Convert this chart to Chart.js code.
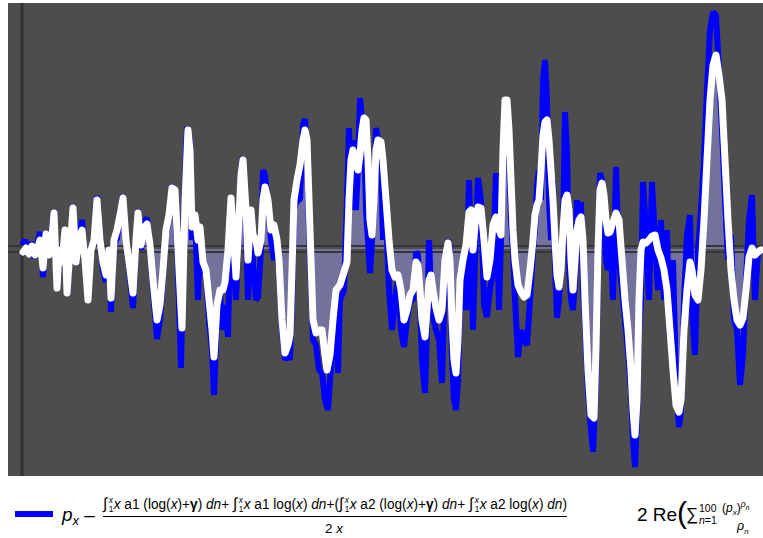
<!DOCTYPE html>
<html>
<head>
<meta charset="utf-8">
<script src="https://cdn.jsdelivr.net/npm/chart.js@4.4.1/dist/chart.umd.min.js"></script>
<style>
  html, body { margin: 0; padding: 0; background: #fff; }
  body { width: 763px; height: 538px; position: relative; overflow: hidden;
         font-family: "Liberation Sans", Arial, sans-serif; color: #000; }
  #plot { position: absolute; left: 8px; top: 3px; }
  .leg { position: absolute; white-space: nowrap; }
  .swatch { position: absolute; left: 15px; top: 511px; width: 38px; height: 6px; background: #0000ff; }
  .big { font-size: 19px; }
  .big sub { font-size: 13px; vertical-align: -4px; }
  .frac { position: absolute; left: 103px; top: 495px; width: 464px; }
  .num { display: inline-block; font-size: 14px; white-space: nowrap; transform-origin: 0 0; }
  .bar { position: absolute; left: 0; top: 21px; width: 464px; height: 1.3px; background: #000; }
  .den { position: absolute; left: 222px; top: 26px; font-size: 13.5px; }
  .int { display: inline-block; position: relative; width: 11px; font-size: 16px; line-height: 14px; }
  .int .lim { position: absolute; left: 6px; font-size: 8.5px; line-height: 8px; }
  .int .up { top: -1px; } .int .lo { top: 8px; }
</style>
</head>
<body>
<canvas id="plot" width="755" height="473"></canvas>

<div class="swatch"></div>
<div class="leg big" style="left:62px; top:504px;"><i>p</i><sub><i>x</i></sub> –</div>
<div class="frac">
  <span class="num" id="num"><span class="int">∫<span class="lim up"><i>x</i></span><span class="lim lo">1</span></span><i>x</i> a1 (log(<i>x</i>)+<b>γ</b>) <i>dn</i>+ <span class="int">∫<span class="lim up"><i>x</i></span><span class="lim lo">1</span></span><i>x</i> a1 log(<i>x</i>) <i>dn</i>+(<span class="int">∫<span class="lim up"><i>x</i></span><span class="lim lo">1</span></span><i>x</i> a2 (log(<i>x</i>)+<b>γ</b>) <i>dn</i>+ <span class="int">∫<span class="lim up"><i>x</i></span><span class="lim lo">1</span></span><i>x</i> a2 log(<i>x</i>) <i>dn</i>)</span>
  <div class="bar"></div>
  <div class="den">2 <i>x</i></div>
</div>
<div class="leg big" style="left:637px; top:504px;">2 Re</div>
<div class="leg" style="left:677px; top:496px; font-size:30px; font-weight:300;">(</div>
<div class="leg" style="left:686px; top:505px; font-size:17px;">∑</div>
<div class="leg" style="left:699px; top:502px; font-size:10.5px;">100</div>
<div class="leg" style="left:699px; top:514px; font-size:10.5px;"><i>n</i>=1</div>
<div class="leg" style="left:722px; top:499px; font-size:12px;">(<i>p</i><sub style="font-size:8px"><i>x</i></sub>)<sup style="font-size:8.5px"><i>ρ</i><sub><i>n</i></sub></sup></div>
<div class="leg" style="left:737px; top:519px; font-size:12.5px;"><i>ρ</i><sub style="font-size:8px"><i>n</i></sub></div>

<script>
// p_x minus the integral terms (blue, jagged)
const blueX = [0,3,6,9,12,15,18,21,24,27,30,32,35,38,41,44,45,48,51,54,57,60,63,66,69,72,75,78,81,84,87,89,92,95,98,101,104,107,111,114,116,119,122,125,128,131,135,138,141,144,147,150,153,156,159,162,165,168,170,173,176,178,181,184,187,190,192,195,198,201,203,206,209,211,214,216,219,221,224,226,229,231,234,236,239,241,243,246,249,252,255,257,260,263,266,268,270,272,275,278,281,283,285,287,289,291,294,297,300,303,306,308,311,314,316,318,322,325,327,329,331,334,336,338,340,342,344,346,348,350,352,354,356,359,361,364,367,370,373,376,379,382,385,388,391,394,396,398,400,403,405,407,409,411,414,417,420,423,426,428,430,432,434,436,438,441,444,447,449,451,453,456,459,462,465,468,471,474,477,479,481,483,485,487,489,491,493,496,499,502,505,508,511,513,515,517,519,521,523,525,527,529,531,533,535,537,539,541,543,545,547,549,551,553,555,557,559,561,563,566,569,571,574,576,578,580,582,584,586,588,591,594,597,600,603,606,609,611,613,615,617,619,621,624,627,630,633,636,639,642,645,648,651,654,657,659,662,665,668,670,673,676,679,682,685,688,691,694,697,700,703,706,709,712,715,718,721,724,727,730,733,736,739];
const blueY = [0.4,0.9,-0.6,0.7,-0.9,0.4,1.7,-2.8,1.7,-0.9,2.1,3.9,-4.1,0.4,-1.6,1.7,-4.6,-0.6,4.4,-1.6,1.4,2.9,-1.3,-5.3,-0.1,0.7,5.3,1.1,-2.1,-3.3,-0.3,-6.3,0.4,1.1,3.7,5.4,0.9,-1.9,-5.9,0.4,3.9,-0.1,2.7,3.1,-0.1,-4.1,-9.0,-7.1,-2.6,1.4,3.1,6.4,4.9,-2.1,-11.9,3.9,12.2,10.9,0.9,3.4,-5.1,0.9,-2.1,-2.6,-7.1,-10.1,-14.6,-7.1,-4.6,-8.1,-5.6,-8.8,4.9,-1.1,-5.1,-0.1,7.9,9.2,1.9,-5.1,3.4,-1.6,-5.1,-4.8,-0.1,7.9,7.4,4.4,0.9,-1.1,-0.1,-2.1,-8.1,-11.1,-10.6,-11.1,-5.1,3.9,4.9,4.9,12.4,13.0,9.9,1.9,-3.1,-9.1,-9.6,-12.1,-12.4,-15.1,-16.1,-13.1,-9.1,-5.1,-12.4,-5.1,-4.1,4.9,12.1,3.9,10.9,3.9,8.4,15.1,12.9,11.9,3.9,0.9,-2.4,0.9,4.4,12.1,10.9,8.9,0.9,3.4,-4.1,-8.1,-5.1,-3.1,-8.1,-9.8,-7.1,-5.1,-5.1,-0.3,-0.6,-5.1,-11.1,-14.4,-8.1,0.9,-4.1,-6.6,-8.1,-9.1,-13.4,-2.6,0.9,-0.1,-11.1,-15.1,-16.1,-13.1,-5.1,-3.1,-6.1,6.9,-0.1,-8.1,-1.1,7.1,4.9,-5.6,-6.8,-4.1,-2.1,7.6,-6.1,0.9,7.9,13.9,12.9,9.9,2.9,-0.1,-5.1,-10.8,-8.1,-9.1,-9.6,-5.1,-0.1,1.9,6.4,7.9,4.9,16.9,18.9,14.9,4.9,0.9,6.9,-1.6,-6.9,-5.1,-1.1,1.9,13.7,9.9,-1.1,-5.1,-6.1,-3.1,4.9,0.4,4.7,-4.1,-7.1,-14.1,-18.1,-20.3,-13.1,-2.6,7.6,6.9,2.9,-1.1,-2.1,1.9,-5.1,8.2,-1.1,-4.1,-7.1,-10.1,-14.1,-19.1,-21.8,-17.1,-8.1,-5.1,6.7,1.9,-5.1,6.7,0.9,-4.1,2.9,-5.1,1.9,-9.1,-1.1,-13.1,-17.8,-16.1,-5.1,1.4,3.4,-6.1,-10.6,-0.1,3.9,8.9,15.9,21.9,23.7,23.4,17.9,11.9,4.9,-1.1,1.4,-7.1,-8.1,-13.6,-10.6,-3.1,2.9,5.4,-5.1,-0.1,-0.6];

// 2 Re(sum over the first 100 zeros) (white, smoother)
const whiteX = [1,4,7,10,13,16,18,21,24,27,30,32,35,37,40,43,45,48,51,54,57,60,63,66,69,72,75,78,81,84,87,89,92,95,98,101,104,107,111,114,116,119,122,125,128,131,135,138,141,144,147,150,153,156,160,163,166,168,170,173,176,178,181,184,187,190,192,195,198,201,203,206,209,211,214,216,219,221,224,226,229,231,234,236,239,241,243,246,249,252,255,257,260,263,266,268,270,272,275,278,281,283,285,287,289,291,294,297,300,303,305,308,311,314,318,322,325,327,329,331,334,336,338,340,342,344,346,348,350,352,354,356,359,361,364,367,370,373,376,379,382,385,388,391,394,396,398,400,403,405,407,409,411,414,417,420,423,426,428,430,432,434,436,438,441,444,447,449,451,453,456,459,462,465,468,471,474,477,479,481,483,485,487,489,491,493,496,499,502,505,508,511,513,515,517,519,521,523,525,527,529,531,533,535,537,539,541,543,545,547,549,551,553,555,557,559,561,563,566,569,572,574,576,578,580,582,584,586,588,591,594,597,600,603,606,609,611,613,615,617,619,621,624,627,630,633,636,639,642,645,648,651,654,657,659,662,665,668,670,673,676,679,682,685,688,691,694,697,700,703,706,709,712,715,718,721,724,727,730,733,736,739];
const whiteY = [-0.3,0.1,-0.5,0.3,-0.6,0.2,0.9,-1.9,1.5,-0.6,1.3,3.6,-3.9,-0.1,-1.3,1.9,-4.4,-0.1,4.1,-1.3,0.9,1.9,-1.1,-5.1,-0.1,0.9,4.9,0.9,-1.3,-2.6,-0.1,-4.9,0.9,1.9,3.4,5.1,0.9,-1.3,-4.4,0.9,3.6,0.4,2.1,2.5,0.4,-3.1,-7.1,-5.6,-2.1,1.9,3.4,6.1,5.9,-0.1,-7.9,4.9,11.9,9.9,2.2,3.4,0.9,2.2,-1.3,-2.1,-5.1,-8.1,-10.8,-5.6,-4.1,-4.1,-3.3,-0.1,5.1,1.9,-2.8,0.9,7.4,8.9,3.9,-1.1,3.9,1.4,0.9,-0.4,0.9,4.9,6.2,4.9,1.9,2.4,0.9,-1.1,-7.1,-10.4,-9.6,-8.6,-2.1,4.9,6.9,8.4,10.9,11.9,10.9,4.9,-1.1,-7.1,-8.4,-8.1,-8.1,-10.6,-12.1,-10.6,-7.1,-4.1,-3.6,-2.3,-1.3,4.9,8.9,9.9,8.4,7.9,9.4,11.9,13.1,12.9,8.9,2.9,1.4,4.9,9.9,10.9,10.7,8.9,4.9,0.9,-2.1,-2.8,-2.6,-4.1,-7.1,-6.1,-4.6,-4.1,-1.3,-1.6,-4.1,-7.1,-8.8,-6.1,-3.1,-2.6,-4.1,-5.9,-7.1,-6.1,-1.1,0.6,-1.1,-7.1,-11.1,-12.4,-9.1,-3.1,-1.1,0.4,3.7,3.9,-0.1,2.4,4.2,4.1,0.9,-2.8,-1.1,2.4,3.2,1.9,1.4,9.9,14.9,14.9,11.9,6.9,1.9,-1.1,-3.6,-4.3,-4.8,-4.6,-2.1,0.9,3.4,4.4,4.9,7.9,11.4,12.7,12.9,10.9,7.9,4.9,0.9,-2.6,-3.8,-2.1,1.9,4.9,5.4,3.9,-1.1,-4.1,-1.1,1.9,2.9,3.2,0.9,-5.1,-12.1,-16.6,-16.9,-10.1,-0.1,5.9,6.6,5.4,2.9,1.6,1.7,2.7,3.6,2.9,-1.1,-5.1,-8.1,-12.1,-16.1,-18.6,-15.1,-5.1,-0.1,0.7,0.6,0.9,1.3,1.4,-0.1,-0.9,-2.1,-4.1,-8.1,-12.1,-15.6,-16.3,-15.1,-8.1,-4.1,-1.3,-2.1,-4.6,-5.1,-2.1,2.9,8.9,14.9,18.4,19.4,17.4,14.9,8.9,2.9,-2.1,-5.1,-7.1,-7.6,-6.9,-4.1,-0.8,0.1,-0.6,-0.3,-0.1];

const xMin = -14, xMax = 741;
const yMin = -22.7, yMax = 24.6;

const toPoints = (xs, ys) => xs.map((x, i) => ({ x: x, y: ys[i] }));

// background + axis lines, axes drawn right after the fill layer
const plotBackdrop = {
  id: 'plotBackdrop',
  beforeDraw(chart) {
    const c = chart.ctx;
    c.save();
    c.fillStyle = '#4d4d4d';
    c.fillRect(0, 0, chart.width, chart.height);
    c.restore();
  },
  afterDatasetDraw(chart, args) {
    if (args.index !== 0) return;
    const c = chart.ctx;
    const area = chart.chartArea;
    const x0 = chart.scales.x.getPixelForValue(0);
    const y0 = chart.scales.y.getPixelForValue(0);
    c.save();
    c.fillStyle = '#303030';
    c.fillRect(x0 - 1.5, area.top, 3, area.bottom - area.top);
    c.fillStyle = '#363636';
    c.fillRect(area.left, y0 - 4, area.right - area.left, 2);
    c.fillRect(area.left, y0 + 2, area.right - area.left, 2);
    c.restore();
  }
};

new Chart(document.getElementById('plot'), {
  type: 'line',
  data: {
    datasets: [
      {
        label: 'fill',
        data: toPoints(whiteX, whiteY),
        borderWidth: 0,
        pointRadius: 0,
        fill: 'origin',
        backgroundColor: 'rgba(160,160,255,0.45)',
        order: 3
      },
      {
        label: 'p_x − …',
        data: toPoints(blueX, blueY),
        borderColor: '#0000ff',
        borderWidth: 6,
        borderJoinStyle: 'bevel',
        pointRadius: 0,
        fill: false,
        order: 2
      },
      {
        label: '2 Re(…)',
        data: toPoints(whiteX, whiteY),
        borderColor: '#ffffff',
        borderWidth: 7,
        borderJoinStyle: 'round',
        borderCapStyle: 'round',
        pointRadius: 0,
        fill: false,
        order: 1
      }
    ]
  },
  plugins: [plotBackdrop],
  options: {
    responsive: false,
    animation: false,
    layout: { padding: 0 },
    plugins: { legend: { display: false }, tooltip: { enabled: false } },
    scales: {
      x: { type: 'linear', min: xMin, max: xMax, display: false },
      y: { min: yMin, max: yMax, display: false }
    }
  }
});

// squeeze the numerator onto the fraction bar width
const num = document.getElementById('num');
const w = num.getBoundingClientRect().width;
if (w > 0) num.style.transform = 'scaleX(' + (464 / w) + ')';
</script>
</body>
</html>
